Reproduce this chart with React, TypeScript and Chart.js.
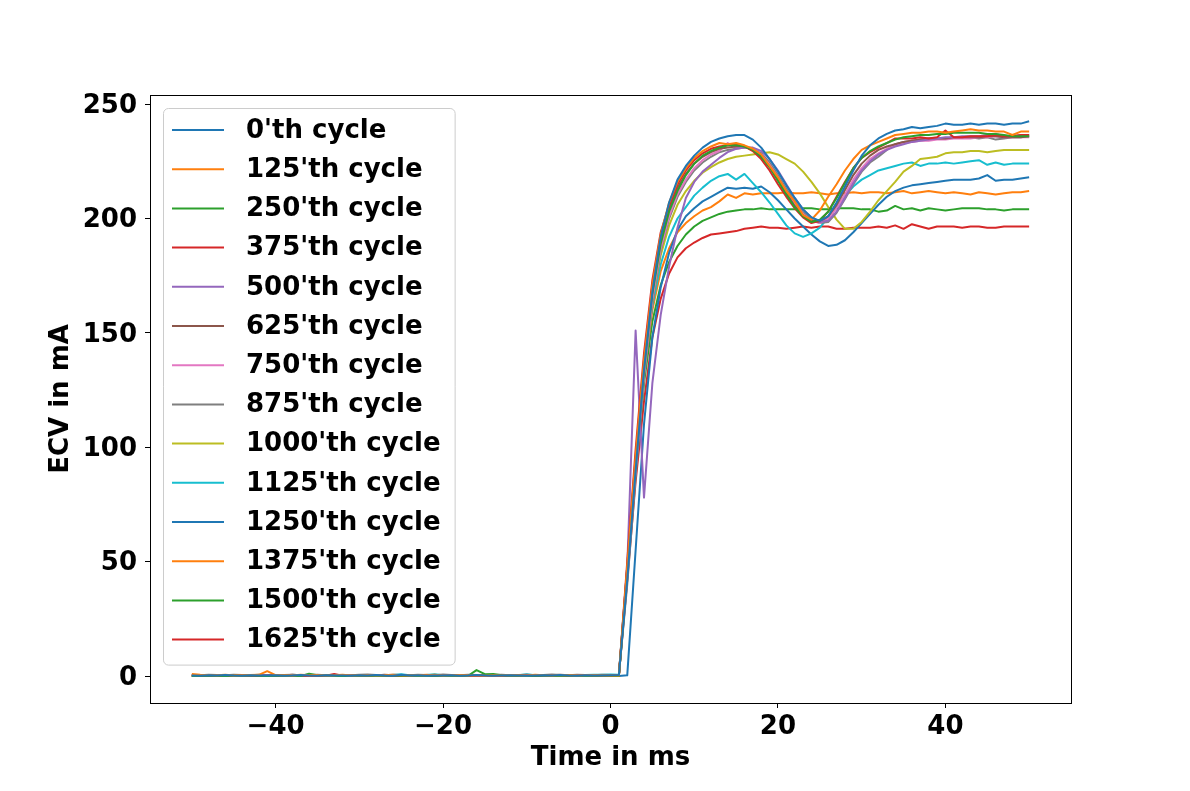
import { useEffect, useRef } from "react"
import Chart from "chart.js/auto"

const FONT = "DejaVu Sans"

// time axis (ms), one sample per ms
const TIME = [
  -50, -49, -48, -47, -46, -45, -44, -43, -42, -41, -40, -39, -38, -37, -36, -35, -34,
  -33, -32, -31, -30, -29, -28, -27, -26, -25, -24, -23, -22, -21, -20, -19, -18, -17,
  -16, -15, -14, -13, -12, -11, -10, -9, -8, -7, -6, -5, -4, -3, -2, -1, 0, 1, 2, 3, 4,
  5, 6, 7, 8, 9, 10, 11, 12, 13, 14, 15, 16, 17, 18, 19, 20, 21, 22, 23, 24, 25, 26, 27,
  28, 29, 30, 31, 32, 33, 34, 35, 36, 37, 38, 39, 40, 41, 42, 43, 44, 45, 46, 47, 48, 49, 50,
]

const LABELS = [
  "0'th cycle", "125'th cycle", "250'th cycle", "375'th cycle", "500'th cycle",
  "625'th cycle", "750'th cycle", "875'th cycle", "1000'th cycle", "1125'th cycle",
  "1250'th cycle", "1375'th cycle", "1500'th cycle", "1625'th cycle",
]

const COLORS = [
  "#1f77b4", "#ff7f0e", "#2ca02c", "#d62728", "#9467bd", "#8c564b", "#e377c2",
  "#7f7f7f", "#bcbd22", "#17becf", "#1f77b4", "#ff7f0e", "#2ca02c", "#d62728",
]

const X_TICKS = [-40, -20, 0, 20, 40]
const Y_TICKS = [0, 50, 100, 150, 200, 250]

const CYCLE_0 = [
  0.2, 0.1, 0.3, 0.2, 0.4, 0.2, 0.1, 0.3, 0.2, 0.2, 0.3, 0.1, 0.2, 0.4, 0.2, 0.1, 0.3, 0.2, 0.2, 0.1,
  0.3, 0.2, 0.4, 0.2, 0.1, 0.5, 0.2, 0.3, 0.1, 0.2, 0.2, 0.3, 0.1, 0.2, 0.4, 0.2, 0.1, 0.2, 0.3, 0.2,
  0.1, 0.2, 0.3, 0.2, 0.4, 0.2, 0.1, 0.3, 0.2, 0.2, 0.3, 0.4,
  42, 90, 134, 168, 192, 207, 217, 223, 227.5, 231,
  233.5, 235, 236, 236.5, 236.5, 234.5, 231, 226, 220.5, 214.5,
  209, 204, 200.5, 199, 201, 207, 214, 221, 227.5, 232,
  235, 237, 238.5, 239, 240, 239.5, 240, 240.5, 241.5, 241,
  241, 241.5, 241, 241.5, 241.5, 241, 241.5, 241.5, 242.5,
]
const CYCLE_125 = [
  0.9, 0.6, 0.4, 0.3, 0.5, 0.2, 0.3, 0.4, 0.5, 2.1, 0.4, 0.3, 0.2, 0.5, 0.3, 0.4, 0.2, 0.3, 0.5, 0.2,
  0.3, 0.4, 0.2, 0.3, 0.6, 0.3, 0.2, 0.4, 0.3, 0.5, 0.2, 0.3, 0.4, 0.2, 0.3, 0.1, 0.3, 0.2, 0.4, 0.3,
  0.2, 0.5, 0.3, 0.2, 0.4, 0.3, 0.2, 0.3, 0.4, 0.2, 0.3, 0.2,
  48, 96, 138, 171, 193, 207, 216, 222, 226.5, 229.5,
  231.5, 233, 232.5, 233, 232, 230.5, 228, 223, 218, 212,
  207.5, 201.5, 199.5, 203.5, 209.5, 215, 221, 226, 230, 232,
  233.5, 235, 236.5, 237, 237.5, 237.5, 238, 238, 237.5, 238,
  238.5, 239, 238.5, 238.5, 238, 238, 236.5, 238, 238,
]
const CYCLE_250 = [
  0.0, 0.1, 0.2, 0.1, 0.0, 0.2, 0.1, 0.3, 0.1, 0.0, 0.1, 0.2, 0.1, 0.0, 1.0, 0.3, 0.2, 0.1, 0.0, 0.1,
  0.2, 0.1, 0.0, 0.1, 0.3, 0.1, 0.2, 0.0, 0.1, 0.2, 0.1, 0.0, 0.2, 0.1, 2.6, 0.8, 0.9, 0.3, 0.1, 0.2,
  0.0, 0.1, 0.2, 0.1, 0.0, 0.2, 0.1, 0.0, 0.1, 0.2, 0.1, 0.0,
  45, 92, 134, 167, 189, 203, 212, 219, 224, 227.5,
  229.5, 231, 232, 232, 231.5, 230, 227, 222.5, 216.5, 210.5,
  205, 201, 198.5, 199.5, 203, 209, 215.5, 222, 226.5, 229.5,
  231.5, 233, 234.5, 235.5, 236, 236.5, 236.5, 237, 237, 237.5,
  237.5, 237.5, 237.5, 237, 237, 236.5, 236, 236, 236,
]
const CYCLE_375 = [
  0.1, 0.0, 0.2, 0.1, 0.0, 0.1, 0.2, 0.1, 0.0, 0.1, 0.2, 0.1, 0.0, 0.2, 0.1, 0.0, 0.1, 0.9, 0.1, 0.0,
  0.2, 0.1, 0.0, 0.1, 0.2, 0.1, 0.0, 0.1, 0.2, 0.0, 0.1, 0.2, 0.1, 0.0, 0.1, 0.2, 0.1, 0.0, 0.1, 0.2,
  0.1, 0.0, 0.1, 0.2, 0.1, 0.0, 0.1, 0.2, 0.1, 0.0, 0.1, 0.1,
  50, 99, 141, 173, 194, 206, 215, 221, 225.5, 228.5,
  230.5, 231.5, 232, 232.5, 231.5, 229.5, 226, 221, 215, 209.5,
  204.5, 200.5, 198, 199, 203, 209.5, 216, 222, 226.5, 229,
  231, 233, 235, 235, 235, 235.5, 235, 235.5, 238.5, 235.5,
  235.5, 236, 236, 236, 236.5, 236, 236, 236.5, 236.5,
]
const CYCLE_500 = [
  0.2, 0.3, 0.2, 0.4, 0.3, 0.2, 0.3, 0.2, 0.4, 0.3, 0.2, 0.3, 0.4, 0.2, 0.3, 0.2, 0.3, 0.4, 0.2, 0.3,
  0.4, 0.2, 0.3, 0.2, 0.3, 0.4, 0.3, 0.2, 0.3, 0.2, 0.4, 0.3, 0.2, 0.3, 0.2, 0.4, 0.3, 0.2, 0.3, 0.4,
  0.2, 0.3, 0.2, 0.4, 0.3, 0.2, 0.3, 0.2, 0.3, 0.4, 0.3, 0.2,
  48, 151, 78, 128, 158, 179, 196, 209, 216, 220.5,
  223.5, 226.5, 229, 230.5, 231, 231, 229.5, 226, 221, 215,
  209, 204, 200.5, 198.5, 199, 203, 209, 215.5, 221, 225,
  228, 230, 231.5, 232.5, 233.5, 234, 234.5, 235, 235.5, 235.5,
  236, 236, 236, 236.5, 237, 236, 236, 236.5, 236.5,
]
const CYCLE_625 = [
  0.3, 0.2, 0.3, 0.4, 0.3, 0.2, 0.3, 0.4, 0.2, 0.3, 0.3, 0.2, 0.6, 0.3, 0.2, 0.3, 0.4, 0.3, 0.2, 0.3,
  0.4, 0.3, 0.2, 0.6, 0.3, 0.2, 0.3, 0.4, 0.3, 0.2, 0.3, 0.4, 0.2, 0.3, 0.3, 0.2, 0.4, 0.3, 0.2, 0.3,
  0.3, 0.2, 0.4, 0.3, 0.6, 0.3, 0.2, 0.3, 0.4, 0.3, 0.2, 0.3,
  46, 93, 136, 169, 191, 204.5, 213.5, 219.5, 224, 227,
  229, 230.5, 231, 231.5, 231.5, 230, 227, 222.5, 217, 211,
  205.5, 201.5, 199, 198.5, 201, 206, 212.5, 219, 224, 227.5,
  230, 231.5, 232.5, 233.5, 234, 234.5, 235, 235, 235, 235.5,
  235.5, 235.5, 235.5, 236, 236, 235.5, 235.5, 235.5, 236,
]
const CYCLE_750 = [
  0.3, 0.4, 0.3, 0.2, 0.3, 0.4, 0.3, 0.3, 0.2, 0.4, 0.3, 0.2, 0.3, 0.4, 0.3, 0.2, 0.3, 0.3, 0.4, 0.2,
  0.3, 0.4, 0.3, 0.2, 0.3, 0.3, 0.4, 0.3, 0.2, 0.3, 0.4, 0.3, 0.2, 0.3, 0.4, 0.3, 0.3, 0.2, 0.4, 0.3,
  0.2, 0.3, 0.4, 0.3, 0.2, 0.3, 0.4, 0.3, 0.3, 0.2, 0.4, 0.3,
  44, 90, 132, 165, 187, 201, 210.5, 217, 222, 225.5,
  228, 229.5, 233, 231, 231.5, 230.5, 228, 223.5, 218, 212,
  206.5, 202, 199, 198, 200, 204.5, 210.5, 217, 222, 226,
  228.5, 230.5, 232, 233, 233.5, 234, 234, 234.5, 234.5, 235,
  235, 235, 235.5, 235.5, 236, 235.5, 235.5, 235.5, 235.5,
]
const CYCLE_875 = [
  0.4, 0.3, 0.5, 0.4, 0.3, 0.6, 0.4, 0.3, 0.5, 0.4, 0.3, 0.4, 0.5, 0.3, 0.4, 0.5, 0.3, 0.4, 0.4, 0.3,
  0.5, 0.7, 0.4, 0.3, 0.5, 0.4, 0.3, 0.5, 0.4, 0.3, 0.7, 0.4, 0.3, 0.5, 0.4, 0.3, 0.4, 0.5, 0.3, 0.4,
  0.5, 0.3, 0.4, 0.7, 0.4, 0.3, 0.5, 0.4, 0.3, 0.5, 0.4, 0.6,
  40, 87, 130, 163, 186, 200, 209.5, 216, 221, 224.5,
  227, 229, 230, 230.5, 231, 230.5, 228.5, 224.5, 219, 213,
  207.5, 203, 199.5, 198, 198.5, 202.5, 208.5, 215, 220.5, 224.5,
  227, 230, 232.5, 233.5, 234, 234.5, 235, 235, 235, 235.5,
  235.5, 235.5, 235, 235.5, 234.5, 235, 235.5, 235.5, 236,
]
const CYCLE_1000 = [
  0.1, 0.2, 0.1, 0.3, 0.2, 0.1, 0.2, 0.3, 0.1, 0.2, 0.2, 0.1, 0.3, 0.2, 0.1, 0.2, 0.1, 0.3, 0.2, 0.1,
  0.2, 0.3, 0.1, 0.2, 0.1, 0.2, 0.3, 0.1, 0.2, 0.2, 0.1, 0.3, 0.2, 0.1, 0.2, 0.1, 0.2, 0.3, 0.1, 0.2,
  0.3, 0.1, 0.2, 0.2, 0.1, 0.3, 0.2, 0.1, 0.2, 0.1, 0.2, 0.3,
  46, 92, 133, 164, 184, 197, 206, 212, 216.5, 220,
  222.5, 224.5, 226, 227, 227.5, 228, 228.5, 229, 228, 226,
  224, 220.5, 216, 211, 205, 199.5, 195.5, 195.5, 198.5, 203,
  208, 212, 216, 220.5, 223, 226, 226.5, 227, 228.5, 229,
  229, 229.5, 229.5, 229, 229.5, 230, 230, 230, 230,
]
const CYCLE_1125 = [
  0.3, 0.2, 0.4, 0.3, 0.2, 0.3, 0.4, 0.2, 0.3, 0.3, 0.2, 0.4, 0.3, 0.2, 0.3, 0.4, 0.3, 0.2, 0.3, 0.4,
  0.2, 0.3, 0.3, 0.2, 0.4, 0.8, 0.3, 0.2, 0.4, 0.8, 0.3, 0.2, 0.3, 0.4, 0.2, 0.3, 0.3, 0.2, 0.4, 0.3,
  0.8, 0.3, 0.2, 0.4, 0.3, 0.2, 0.3, 0.4, 0.5, 0.6, 0.7, 0.6,
  48, 95, 135, 162, 180, 192, 200, 205, 210, 213.5,
  216.5, 218.5, 219.5, 217, 219.5, 215.5, 211.5, 207, 202, 197,
  193.5, 192, 193.5, 196, 200.5, 205, 210, 214, 217, 219,
  221, 222, 223, 224, 224.5, 223, 224, 224, 224.5, 224,
  224.5, 225, 225.5, 223.5, 224.5, 223.5, 224, 224, 224,
]
const CYCLE_1250 = [
  0.0, 0.1, 0.0, 0.1, 0.2, 0.0, 0.1, 0.0, 0.1, 0.0, 0.1, 0.2, 0.0, 0.1, 0.0, 0.1, 0.0, 0.1, 0.2, 0.0,
  0.1, 0.0, 0.1, 0.0, 0.1, 0.2, 0.0, 0.1, 0.0, 0.1, 0.0, 0.1, 0.2, 0.0, 0.1, 0.0, 0.1, 0.0, 0.1, 0.2,
  0.0, 0.1, 0.0, 0.1, 0.0, 0.1, 0.2, 0.0, 0.1, 0.0, 0.1, 0.0,
  0.3, 55, 110, 148, 170, 185, 195, 201, 204.5, 207.5,
  209.5, 211.5, 213.5, 213, 213.5, 213, 214, 211.5, 208, 204,
  200, 196.5, 193, 190, 188, 188.5, 190.5, 194, 198, 202,
  206, 209.5, 212, 213.5, 214.5, 215, 215.5, 216, 216.5, 217,
  217, 217, 217.5, 219, 216.5, 217, 217, 217.5, 218,
]
const CYCLE_1375 = [
  0.2, 0.1, 0.2, 0.3, 0.1, 0.2, 0.1, 0.2, 0.3, 0.2, 0.1, 0.2, 0.1, 0.3, 0.2, 0.1, 0.2, 0.1, 0.2, 0.3,
  0.1, 0.2, 0.2, 0.1, 0.3, 0.2, 0.1, 0.2, 0.5, 0.2, 0.1, 0.2, 0.3, 0.1, 0.2, 0.1, 0.2, 0.3, 0.2, 0.1,
  0.2, 0.1, 0.3, 0.2, 0.1, 0.2, 0.1, 0.3, 0.2, 0.1, 0.2, 0.2,
  47, 93, 132, 160, 177, 187, 194, 198, 201, 203.5,
  205, 207.5, 210.5, 209, 211, 210.5, 211, 211, 211, 211.5,
  211, 211, 211.5, 211, 210.5, 211, 211, 211.5, 211, 211.5,
  211.5, 211, 211.5, 212, 211, 211.5, 212, 211.5, 211, 211.5,
  211, 210.5, 211.5, 211, 210.5, 211, 211.5, 211.5, 212,
]
const CYCLE_1500 = [
  0.0, 0.1, 0.2, 0.1, 0.0, 0.1, 0.2, 0.0, 0.1, 0.2, 0.1, 0.0, 0.1, 0.2, 0.1, 0.0, 0.1, 0.0, 0.2, 0.1,
  0.0, 0.1, 0.2, 0.1, 0.0, 0.1, 0.0, 0.1, 0.2, 0.1, 0.0, 0.1, 0.2, 0.0, 0.1, 0.0, 0.2, 0.1, 0.0, 0.1,
  0.2, 0.1, 0.0, 0.1, 0.0, 0.2, 0.1, 0.0, 0.1, 0.2, 0.1, 0.0,
  44, 90, 128, 155, 171, 181, 188, 193, 196.5, 199,
  200.5, 202, 203, 203.5, 204, 204, 204.5, 204, 204, 204,
  204, 204.5, 204.5, 204, 204, 204.5, 204.5, 204.5, 204, 204,
  203, 203.5, 205.5, 204, 204.5, 203.5, 204.5, 204, 203.5, 204,
  204.5, 204.5, 204.5, 204, 204, 203.5, 204, 204, 204,
]
const CYCLE_1625 = [
  0.1, 0.0, 0.1, 0.0, 0.2, 0.1, 0.0, 0.1, 0.2, 0.0, 0.1, 0.0, 0.1, 0.2, 0.0, 0.1, 0.0, 0.1, 0.0, 0.2,
  0.1, 0.0, 0.1, 0.0, 0.1, 0.2, 0.0, 0.1, 0.0, 0.1, 0.2, 0.0, 0.1, 0.0, 0.1, 0.0, 0.2, 0.1, 0.0, 0.1,
  0.0, 0.1, 0.2, 0.0, 0.1, 0.0, 0.1, 0.0, 0.2, 0.1, 0.0, 0.1,
  42, 85, 120, 148, 165, 176, 183, 187, 189.5, 191.5,
  193, 193.5, 194, 194.5, 195.5, 196, 196.5, 196, 196, 195.5,
  196, 196.5, 196, 196.5, 196.5, 195.5, 195.5, 196, 196, 196,
  196.5, 196, 197, 195.5, 197.5, 196.5, 195.5, 196.5, 196.5, 196.5,
  196, 196.5, 196.5, 196, 196, 196.5, 196.5, 196.5, 196.5,
]

const SERIES = [
  CYCLE_0, CYCLE_125, CYCLE_250, CYCLE_375, CYCLE_500, CYCLE_625, CYCLE_750,
  CYCLE_875, CYCLE_1000, CYCLE_1125, CYCLE_1250, CYCLE_1375, CYCLE_1500, CYCLE_1625,
]

const font = { family: FONT, size: 26, weight: "bold" as const }

const fmtTick = (v: number | string) => {
  const n = Number(v)
  return n < 0 ? `\u2212${Math.abs(n)}` : `${n}`
}

// matplotlib-style box around the plot area
const framePlugin = {
  id: "frame",
  afterDraw(chart: Chart) {
    const { ctx, chartArea: a } = chart
    ctx.save()
    ctx.strokeStyle = "#000"
    ctx.lineWidth = 1
    ctx.strokeRect(Math.round(a.left) + 0.5, Math.round(a.top) + 0.5, Math.round(a.right - a.left), Math.round(a.bottom - a.top))
    ctx.restore()
  },
}

// legend drawn inside the axes, upper left
const legendPlugin = {
  id: "boxLegend",
  afterDatasetsDraw(chart: Chart) {
    const { ctx, chartArea: a } = chart
    const sets = chart.data.datasets
    ctx.save()
    ctx.font = `bold 26px '${FONT}'`
    const textW = Math.max(...sets.map((d) => ctx.measureText(String(d.label)).width))
    const x0 = a.left + 13
    const y0 = a.top + 13
    const textX = a.left + 96
    const rowH = 39.2
    const w = textX + textW + 14 - x0
    const h = 22 + (sets.length - 1) * rowH + 25
    ctx.beginPath()
    ctx.roundRect(x0 + 0.5, y0 + 0.5, w, h, 5)
    ctx.fillStyle = "rgba(255,255,255,0.8)"
    ctx.fill()
    ctx.strokeStyle = "#cccccc"
    ctx.lineWidth = 1
    ctx.stroke()
    ctx.textBaseline = "middle"
    ctx.textAlign = "left"
    sets.forEach((d, i) => {
      const y = y0 + 22 + i * rowH
      ctx.beginPath()
      ctx.moveTo(a.left + 22, y)
      ctx.lineTo(a.left + 74, y)
      ctx.strokeStyle = d.borderColor as string
      ctx.lineWidth = 2
      ctx.stroke()
      ctx.fillStyle = "#000"
      ctx.fillText(String(d.label), textX, y + 1)
    })
    ctx.restore()
  },
}

const EcvChart = () => {
  const chartRef = useRef<HTMLCanvasElement>(null)
  const chartInstance = useRef<Chart | null>(null)

  useEffect(() => {
    if (!chartRef.current) return
    if (chartInstance.current) chartInstance.current.destroy()
    const ctx = chartRef.current.getContext("2d")
    if (!ctx) return

    chartInstance.current = new Chart(ctx, {
      type: "line",
      data: {
        datasets: SERIES.map((vals, i) => ({
          label: LABELS[i],
          data: vals.map((v, j) => ({ x: TIME[j], y: v })),
          borderColor: COLORS[i],
          backgroundColor: COLORS[i],
          borderWidth: 2,
          borderJoinStyle: "round" as const,
          pointRadius: 0,
          tension: 0,
          fill: false,
        })),
      },
      options: {
        animation: false,
        responsive: true,
        maintainAspectRatio: false,
        layout: { padding: { top: 95, right: 119, left: 0, bottom: 0 } },
        plugins: {
          legend: { display: false },
          tooltip: { enabled: false },
        },
        scales: {
          x: {
            type: "linear",
            min: -55,
            max: 55,
            afterBuildTicks: (axis) => {
              axis.ticks = X_TICKS.map((value) => ({ value }))
            },
            afterFit: (axis) => {
              axis.height = 88
            },
            border: { display: false },
            grid: { drawOnChartArea: false, tickLength: 5, color: "#000", lineWidth: 1 },
            ticks: { font, color: "#000", padding: 4, maxRotation: 0, callback: fmtTick },
            title: { display: true, text: "Time in ms", font, color: "#000", padding: { top: 0, bottom: 17 } },
          },
          y: {
            min: -11.8,
            max: 254,
            afterBuildTicks: (axis) => {
              axis.ticks = Y_TICKS.map((value) => ({ value }))
            },
            afterFit: (axis) => {
              axis.width = 150
            },
            border: { display: false },
            grid: { drawOnChartArea: false, tickLength: 5, color: "#000", lineWidth: 1 },
            ticks: { font, color: "#000", padding: 8, labelOffset: 2, callback: fmtTick },
            title: { display: true, text: "ECV in mA", font, color: "#000", padding: { top: 46, bottom: 0 } },
          },
        },
      },
      plugins: [framePlugin, legendPlugin],
    })

    return () => {
      if (chartInstance.current) {
        chartInstance.current.destroy()
        chartInstance.current = null
      }
    }
  }, [])

  return <canvas ref={chartRef} />
}

export default function App() {
  return (
    <div style={{ position: "fixed", left: 0, top: 0, width: 1190, height: 791, background: "#fff" }}>
      <EcvChart />
    </div>
  )
}
